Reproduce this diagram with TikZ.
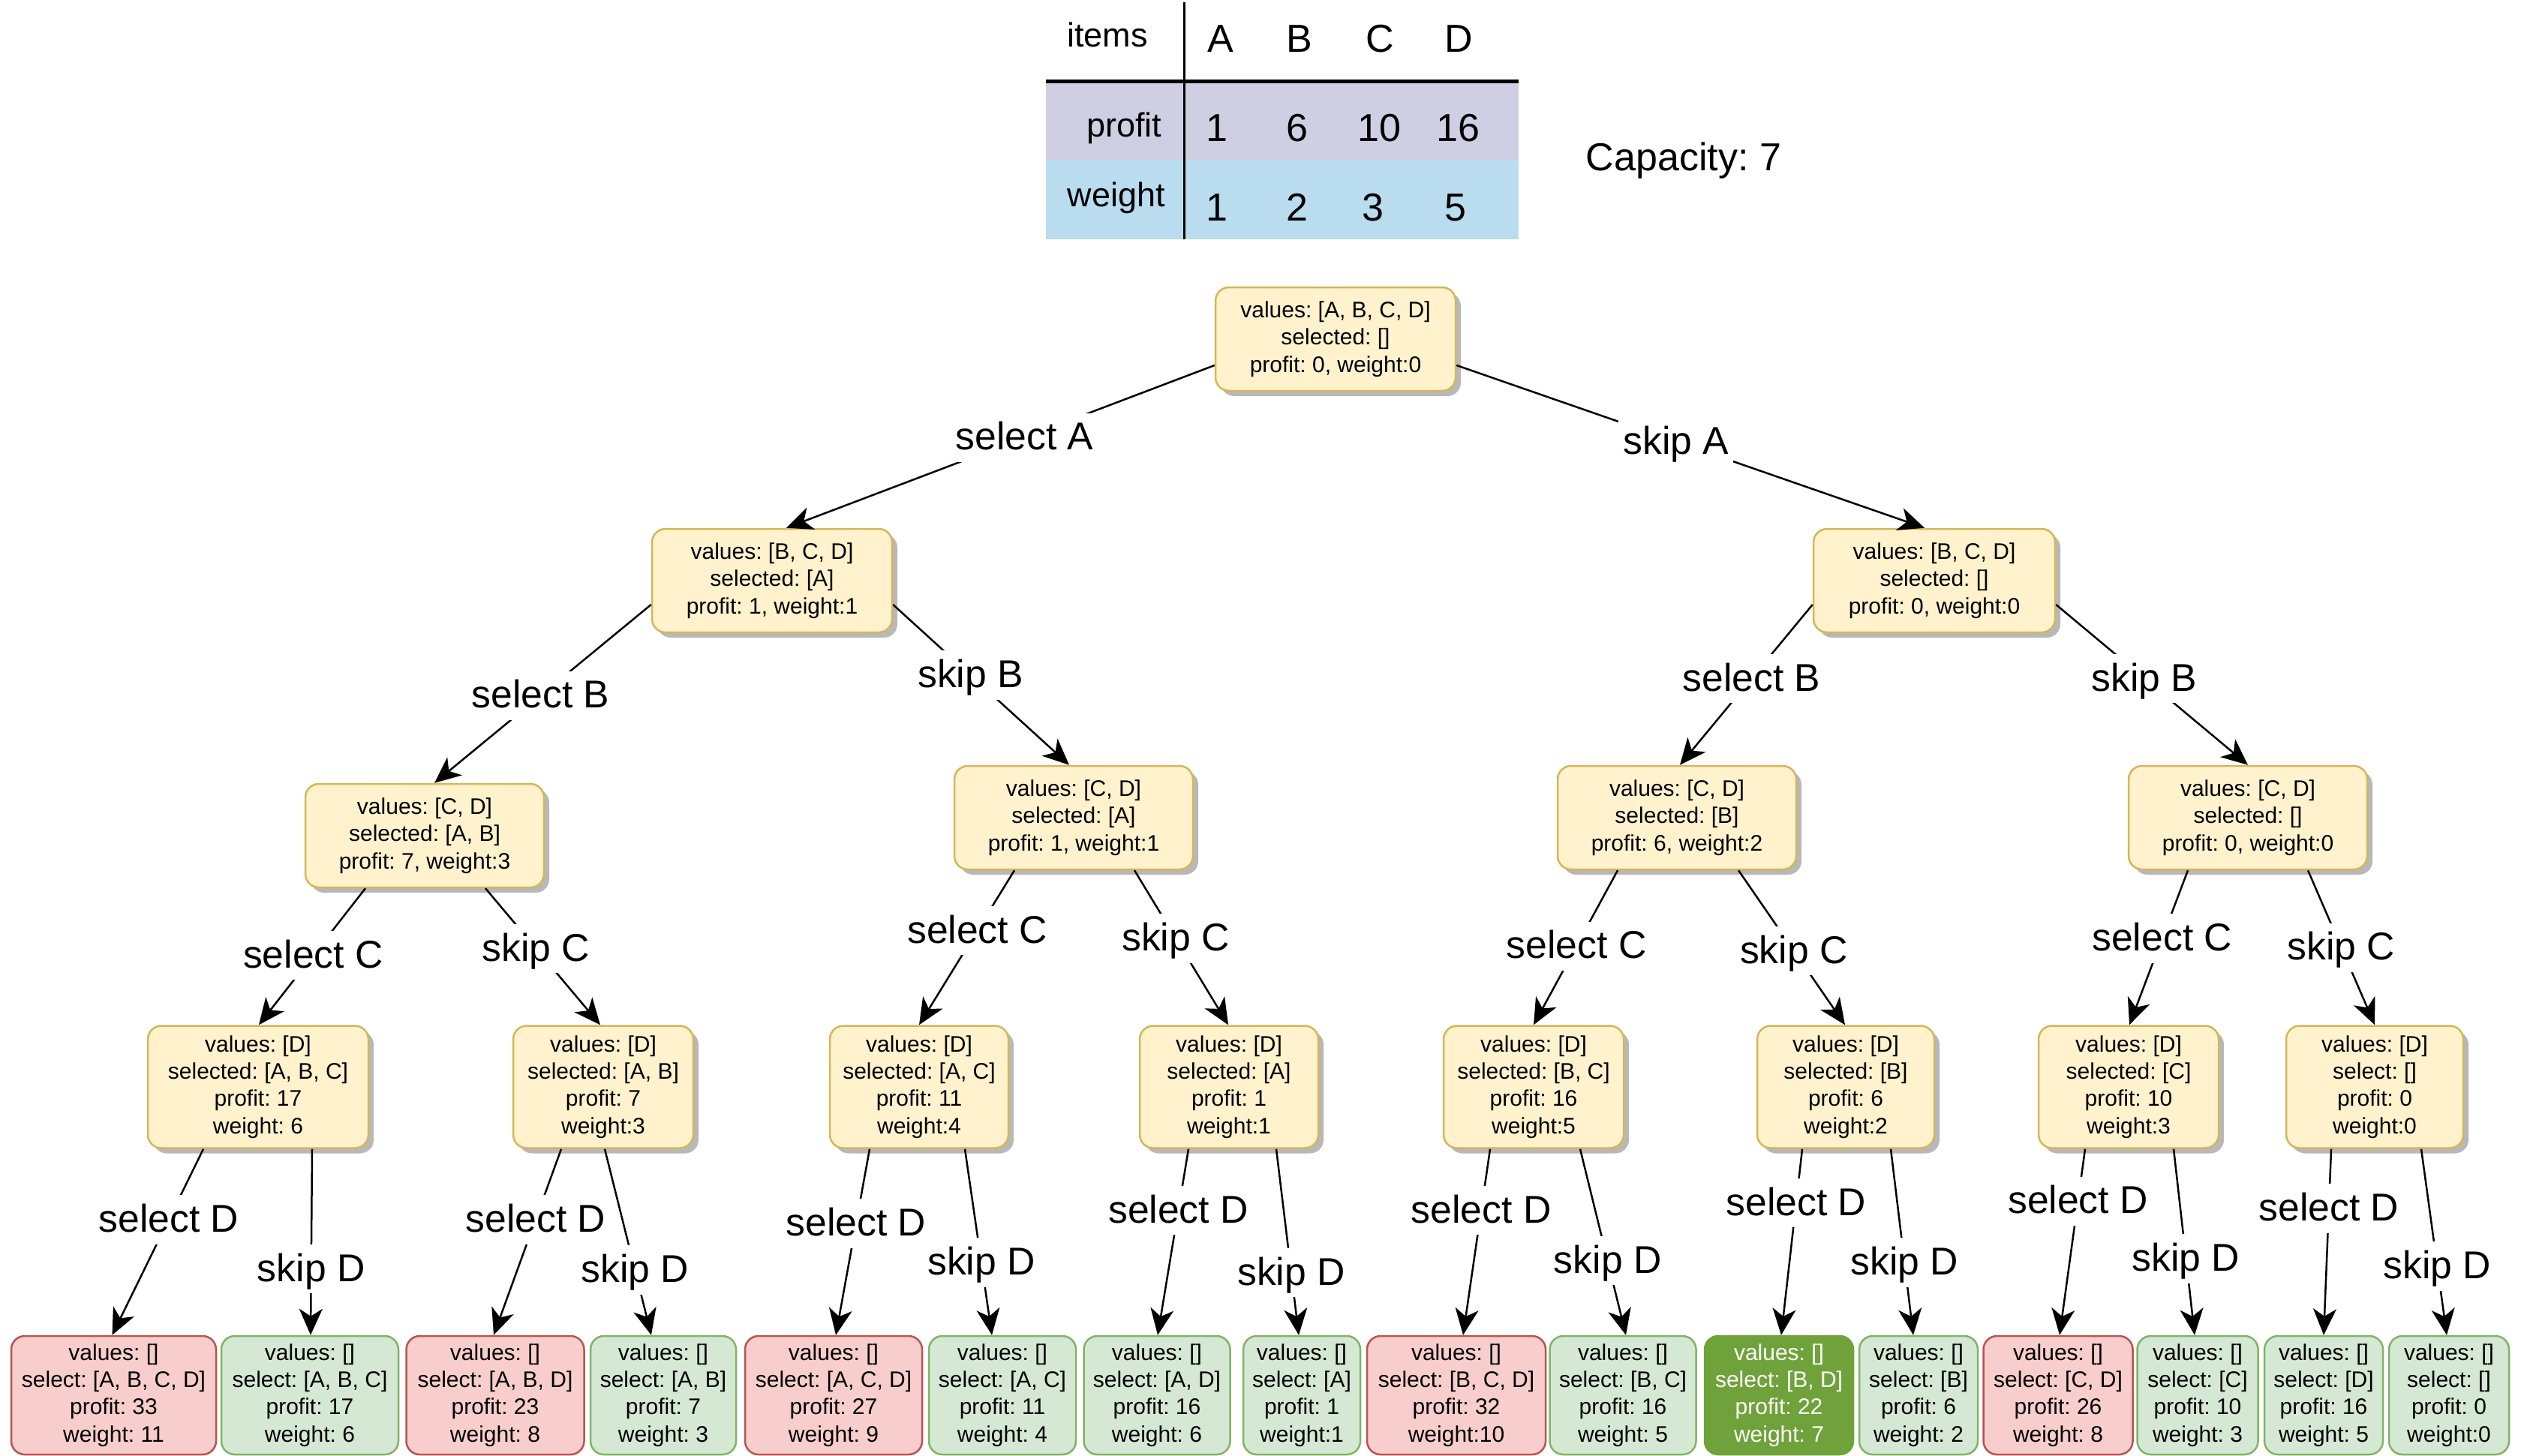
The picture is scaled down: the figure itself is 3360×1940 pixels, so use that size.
\documentclass[tikz,border=0pt]{standalone}
\usepackage{fontspec}
\setmainfont{Liberation Sans}
\usetikzlibrary{arrows.meta,calc,shadows}
\frenchspacing
\definecolor{ynfill}{HTML}{FFF2CC}
\definecolor{yndraw}{HTML}{D6B656}
\definecolor{rfill}{HTML}{F8CECC}
\definecolor{rdraw}{HTML}{B85450}
\definecolor{gfill}{HTML}{D5E8D4}
\definecolor{gdraw}{HTML}{82B366}
\definecolor{bestfill}{HTML}{6FA23A}
\definecolor{rowpurple}{HTML}{D0CEE2}
\definecolor{rowblue}{HTML}{B9DCEF}
\tikzset{
  box/.style={rounded corners=5.4pt, line width=0.75pt, align=center, inner sep=0pt,
    font=\fontsize{9}{10.9}\selectfont},
  ybox/.style={box, fill=ynfill, draw=yndraw,
    drop shadow={shadow xshift=2.1pt, shadow yshift=-2.1pt, fill=black, opacity=0.28}},
  ybthree/.style={ybox, minimum height=41.4pt},
  ybfour/.style={ybox, minimum height=48.9pt},
  leafbox/.style={box, minimum height=47.4pt},
  leafred/.style={leafbox, fill=rfill, draw=rdraw},
  leafgreen/.style={leafbox, fill=gfill, draw=gdraw},
  leafbest/.style={leafbox, fill=bestfill, draw=bestfill, text=white},
  edgeline/.style={line width=0.75pt, -{Stealth[length=10.5pt, width=9.3pt, inset=3pt]}},
  elabel/.style={fill=white, inner sep=1.8pt, text height=13pt, text depth=3pt,
    font=\fontsize{15.5}{18}\selectfont},
  tlabel/.style={inner sep=0pt, anchor=base, font=\fontsize{13.5}{16}\selectfont},
  tnum/.style={inner sep=0pt, anchor=base, font=\fontsize{15.6}{18}\selectfont},
}
\newcommand\tedge[6]{\draw[edgeline] ($(#1.south)+(#2,0)$) -- node[elabel,pos=#6]{#5} ($(#3.north)+(#4,0)$);}
\begin{document}
\begin{tikzpicture}[x=0.3pt,y=-0.3pt]
\useasboundingbox (0,0) rectangle (3360,1940);
% table
\fill[rowpurple] (1394,111) rectangle (2024,213);
\fill[rowblue] (1394,213) rectangle (2024,319);
\draw[line width=1.5pt] (1394,109) -- (2024,109);
\draw[line width=0.9pt] (1578,3) -- (1578,319);
\node[tlabel] (titems) at (1476,63) {items};
\node[tnum] (tA) at (1627,70) {A};
\node[tnum] (tB) at (1732,70) {B};
\node[tnum] (tC) at (1839,70) {C};
\node[tnum] (tD) at (1944,70) {D};
\node[tlabel, anchor=base east] (tprofit) at (1549,183) {profit};
\node[tnum] (pA) at (1622,189) {1};
\node[tnum] (pB) at (1729,189) {6};
\node[tnum] (pC) at (1838,189) {10};
\node[tnum] (pD) at (1943,189) {16};
\node[tlabel] (tweight) at (1488,276) {weight};
\node[tnum] (wA) at (1622,295) {1};
\node[tnum] (wB) at (1729,295) {2};
\node[tnum] (wC) at (1830,295) {3};
\node[tnum] (wD) at (1940,295) {5};
\node[tnum] (cap) at (2244,228) {Capacity: 7};
% tree nodes
\node[ybthree, minimum width=96pt] (root) at (1780,452) {values: [A, B, C, D]\\selected: []\\profit: 0, weight:0};
\node[ybthree, minimum width=96pt] (L1a) at (1029,774) {values: [B, C, D]\\selected: [A]\\profit: 1, weight:1};
\node[ybthree, minimum width=96.6pt] (L1b) at (2578,774) {values: [B, C, D]\\selected: []\\profit: 0, weight:0};
\node[ybthree, minimum width=95.4pt] (L2a) at (566,1114) {values: [C, D]\\selected: [A, B]\\profit: 7, weight:3};
\node[ybthree, minimum width=95.4pt] (L2b) at (1431,1090) {values: [C, D]\\selected: [A]\\profit: 1, weight:1};
\node[ybthree, minimum width=95.4pt] (L2c) at (2235,1090) {values: [C, D]\\selected: [B]\\profit: 6, weight:2};
\node[ybthree, minimum width=95.4pt] (L2d) at (2996,1090) {values: [C, D]\\selected: []\\profit: 0, weight:0};
\node[ybfour, minimum width=88.2pt] (L3a) at (344,1449) {values: [D]\\selected: [A, B, C]\\profit: 17\\weight: 6};
\node[ybfour, minimum width=72pt] (L3b) at (804,1449) {values: [D]\\selected: [A, B]\\profit: 7\\weight:3};
\node[ybfour, minimum width=71.4pt] (L3c) at (1225,1449) {values: [D]\\selected: [A, C]\\profit: 11\\weight:4};
\node[ybfour, minimum width=71.4pt] (L3d) at (1638,1449) {values: [D]\\selected: [A]\\profit: 1\\weight:1};
\node[ybfour, minimum width=72pt] (L3e) at (2044,1449) {values: [D]\\selected: [B, C]\\profit: 16\\weight:5};
\node[ybfour, minimum width=70.8pt] (L3f) at (2460,1449) {values: [D]\\selected: [B]\\profit: 6\\weight:2};
\node[ybfour, minimum width=72pt] (L3g) at (2837,1449) {values: [D]\\selected: [C]\\profit: 10\\weight:3};
\node[ybfour, minimum width=70.8pt] (L3h) at (3165,1449) {values: [D]\\select: []\\profit: 0\\weight:0};
% leaves
\node[leafred, minimum width=81.9pt] (lf1) at (151.5,1860) {values: []\\select: [A, B, C, D]\\profit: 33\\weight: 11};
\node[leafgreen, minimum width=70.8pt] (lf2) at (413,1860) {values: []\\select: [A, B, C]\\profit: 17\\weight: 6};
\node[leafred, minimum width=71.1pt] (lf3) at (660,1860) {values: []\\select: [A, B, D]\\profit: 23\\weight: 8};
\node[leafgreen, minimum width=58.2pt] (lf4) at (884,1860) {values: []\\select: [A, B]\\profit: 7\\weight: 3};
\node[leafred, minimum width=70.8pt] (lf5) at (1111,1860) {values: []\\select: [A, C, D]\\profit: 27\\weight: 9};
\node[leafgreen, minimum width=58.8pt] (lf6) at (1336,1860) {values: []\\select: [A, C]\\profit: 11\\weight: 4};
\node[leafgreen, minimum width=58.5pt] (lf7) at (1542,1860) {values: []\\select: [A, D]\\profit: 16\\weight: 6};
\node[leafgreen, minimum width=46.8pt] (lf8) at (1735,1860) {values: []\\select: [A]\\profit: 1\\weight:1};
\node[leafred, minimum width=71.4pt] (lf9) at (1941,1860) {values: []\\select: [B, C, D]\\profit: 32\\weight:10};
\node[leafgreen, minimum width=58.5pt] (lf10) at (2163,1860) {values: []\\select: [B, C]\\profit: 16\\weight: 5};
\node[leafbest, minimum width=59.4pt] (lf11) at (2371,1860) {values: []\\select: [B, D]\\profit: 22\\weight: 7};
\node[leafgreen, minimum width=47.4pt] (lf12) at (2557,1860) {values: []\\select: [B]\\profit: 6\\weight: 2};
\node[leafred, minimum width=59.7pt] (lf13) at (2743,1860) {values: []\\select: [C, D]\\profit: 26\\weight: 8};
\node[leafgreen, minimum width=48.3pt] (lf14) at (2929,1860) {values: []\\select: [C]\\profit: 10\\weight: 3};
\node[leafgreen, minimum width=47.4pt] (lf15) at (3097,1860) {values: []\\select: [D]\\profit: 16\\weight: 5};
\node[leafgreen, minimum width=48pt] (lf16) at (3264,1860) {values: []\\select: []\\profit: 0\\weight:0};
% edges level 0-1
\draw[edgeline] ($(root.west)+(0,35)$) -- node[elabel,pos=0.444]{select A} ($(L1a.north)+(19,0)$);
\draw[edgeline] ($(root.east)+(0,35)$) -- node[elabel,pos=0.469]{skip A} ($(L1b.north)+(-13,0)$);
% level 1-2
\draw[edgeline] ($(L1a.west)+(0,32)$) -- node[elabel,pos=0.51]{select B} ($(L2a.north)+(13,0)$);
\draw[edgeline] ($(L1a.east)+(0,32)$) -- node[elabel,pos=0.44]{skip B} ($(L2b.north)+(-6,0)$);
\draw[edgeline] ($(L1b.west)+(0,32)$) -- node[elabel,pos=0.46]{select B} ($(L2c.north)+(4,0)$);
\draw[edgeline] ($(L1b.east)+(0,32)$) -- node[elabel,pos=0.46]{skip B} ($(L2d.north)+(0,0)$);
% level 2-3
\tedge{L2a}{-79}{L3a}{1}{select C}{0.49}
\tedge{L2a}{81}{L3b}{-4}{skip C}{0.44}
\tedge{L2b}{-79}{L3c}{0}{select C}{0.39}
\tedge{L2b}{81}{L3d}{-1}{skip C}{0.44}
\tedge{L2c}{-79}{L3e}{0}{select C}{0.49}
\tedge{L2c}{82}{L3f}{-1}{skip C}{0.52}
\tedge{L2d}{-80}{L3g}{1}{select C}{0.44}
\tedge{L2d}{80}{L3h}{0}{skip C}{0.5}
% level 3-4
\tedge{L3a}{-73}{lf1}{-2}{select D}{0.38}
\tedge{L3a}{72}{lf2}{1}{skip D}{0.645}
\tedge{L3b}{-56}{lf3}{-2}{select D}{0.38}
\tedge{L3b}{2}{lf4}{-16}{skip D}{0.65}
\tedge{L3c}{-66}{lf5}{3}{select D}{0.40}
\tedge{L3c}{61}{lf6}{-14}{skip D}{0.61}
\tedge{L3d}{-54}{lf7}{1}{select D}{0.33}
\tedge{L3d}{63}{lf8}{-4}{skip D}{0.665}
\tedge{L3e}{-58}{lf9}{9}{select D}{0.33}
\tedge{L3e}{62}{lf10}{4}{skip D}{0.60}
\tedge{L3f}{-58}{lf11}{3}{select D}{0.29}
\tedge{L3f}{60}{lf12}{-7}{skip D}{0.61}
\tedge{L3g}{-58}{lf13}{2}{select D}{0.28}
\tedge{L3g}{60}{lf14}{-4}{skip D}{0.59}
\tedge{L3h}{-58}{lf15}{0}{select D}{0.32}
\tedge{L3h}{62}{lf16}{-3}{skip D}{0.63}
\end{tikzpicture}
\end{document}
